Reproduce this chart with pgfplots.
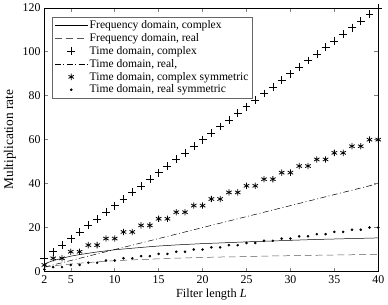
\documentclass[border=0pt]{standalone}
\usepackage{fontspec}
\setmainfont{Liberation Serif}
\usepackage{pgfplots}
\pgfplotsset{compat=1.18}
\pgfplotsset{
  linelegend/.style={legend image code/.code={\draw[##1] (0pt,0pt) -- (33pt,0pt);}},
  marklegend/.style={legend image code/.code={\draw[##1] plot coordinates {(16.5pt,0pt)};}},
}
\begin{document}
\fontsize{11.5}{13.5}\selectfont
\begin{tikzpicture}
\begin{axis}[
  scale only axis,
  width=338pt, height=267pt,
  xmin=2, xmax=40, ymin=0, ymax=120,
  xtick={2,5,10,15,20,25,30,35,40},
  ytick={0,20,40,60,80,100,120},
  tick align=inside,
  xtick pos=both, ytick pos=both,
  major tick length=4pt,
  tick style={line width=0.5pt},
  /pgf/number format/assume math mode=true,
  tick label style={font=\fontsize{12}{13}\selectfont},
  xlabel={Filter length \textit{L}},
  ylabel={Multiplication rate},
  xlabel style={font=\fontsize{12.5}{14}\selectfont, yshift=2pt},
  ylabel style={font=\fontsize{13.5}{15}\selectfont, yshift=-1pt},
  axis line style={line width=0.5pt},
  legend style={at={(0.024,0.966)}, anchor=north west, draw=black!60, line width=0.5pt,
    font=\fontsize{11.7}{12}\selectfont, row sep=-0.8pt, inner xsep=2pt, inner ysep=1.5pt},
  legend cell align=left,
]
\addplot[black, line width=0.5pt, no marks, linelegend] coordinates {
(2,3.5)(3,5)(4,6)(5,7)(6,7.7)(7,8.3)(8,8.9)(9,9.4)(10,9.9)(12,10.6)(14,11.3)(15,11.6)(17,12.1)(20,12.7)(22,13.0)(25,13.5)(28,13.9)(30,14.2)(33,14.6)(35,14.8)(38,15.1)(40,15.3)};
\addlegendentry{Frequency domain, complex}
\addplot[black!65, line width=0.5pt, dash pattern=on 7pt off 4pt, no marks, linelegend] coordinates {
(2,2)(3,2.6)(4,3)(5,3.4)(6,3.8)(7,4.1)(8,4.4)(9,4.7)(10,4.9)(12,5.3)(14,5.6)(15,5.8)(17,6.1)(20,6.4)(22,6.6)(25,6.8)(28,7.1)(30,7.2)(33,7.4)(35,7.5)(38,7.7)(40,7.8)};
\addlegendentry{Frequency domain, real}
\addplot[black, only marks, mark=+, mark size=4pt, mark options={line width=0.5pt}, marklegend] coordinates {
(2,6)(3,9)(4,12)(5,15)(6,18)(7,21)(8,24)(9,27)(10,30)(11,33)(12,36)(13,39)(14,42)(15,45)(16,48)(17,51)(18,54)(19,57)(20,60)(21,63)(22,66)(23,69)(24,72)(25,75)(26,78)(27,81)(28,84)(29,87)(30,90)(31,93)(32,96)(33,99)(34,102)(35,105)(36,108)(37,111)(38,114)(39,117)(40,120)};
\addlegendentry{Time domain, complex}
\addplot[black, line width=0.5pt, dash pattern=on 6pt off 2.5pt on 1pt off 2.5pt, no marks, linelegend] coordinates {
(2,2)(40,40)};
\addlegendentry{Time domain, real,}
\addplot[black, only marks, mark=asterisk, mark size=3.2pt, mark options={line width=0.8pt}, marklegend] coordinates {
(2,3)(3,6)(4,6)(5,9)(6,9)(7,12)(8,12)(9,15)(10,15)(11,18)(12,18)(13,21)(14,21)(15,24)(16,24)(17,27)(18,27)(19,30)(20,30)(21,33)(22,33)(23,36)(24,36)(25,39)(26,39)(27,42)(28,42)(29,45)(30,45)(31,48)(32,48)(33,51)(34,51)(35,54)(36,54)(37,57)(38,57)(39,60)(40,60)};
\addlegendentry{Time domain, complex symmetric}
\addplot[black, only marks, mark=*, mark size=1.1pt, marklegend] coordinates {
(2,1)(3,2)(4,2)(5,3)(6,3)(7,4)(8,4)(9,5)(10,5)(11,6)(12,6)(13,7)(14,7)(15,8)(16,8)(17,9)(18,9)(19,10)(20,10)(21,11)(22,11)(23,12)(24,12)(25,13)(26,13)(27,14)(28,14)(29,15)(30,15)(31,16)(32,16)(33,17)(34,17)(35,18)(36,18)(37,19)(38,19)(39,20)(40,20)};
\addlegendentry{Time domain, real symmetric}
\end{axis}
\end{tikzpicture}
\end{document}
